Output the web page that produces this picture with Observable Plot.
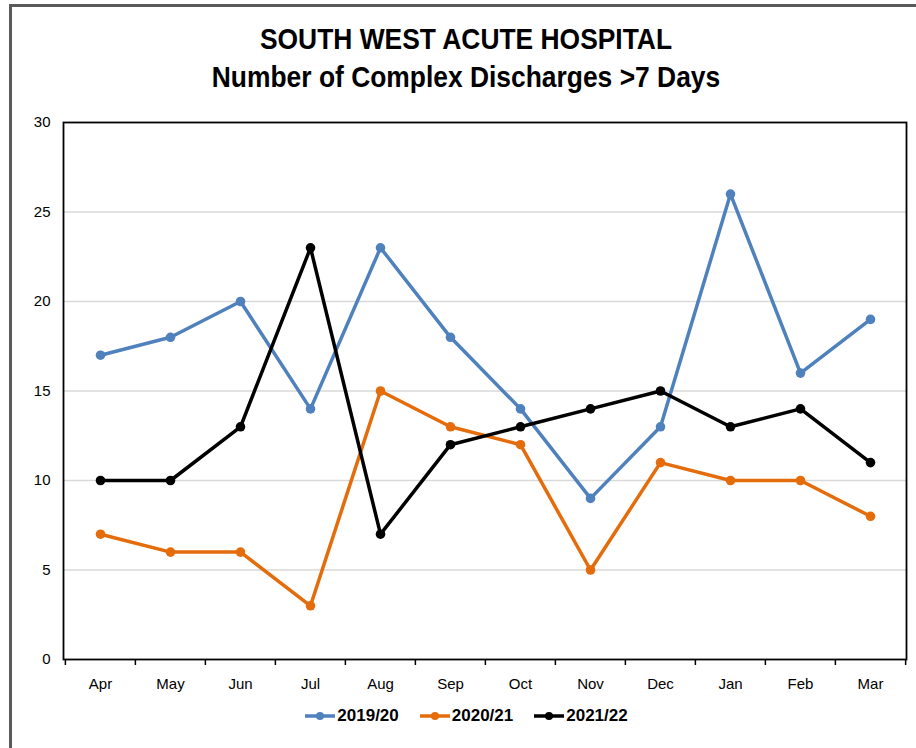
<!DOCTYPE html>
<html>
<head>
<meta charset="utf-8">
<script src="https://cdn.jsdelivr.net/npm/d3@7"></script>
<script src="https://cdn.jsdelivr.net/npm/@observablehq/plot@0.6"></script>
<style>
  body { margin: 0; background: #fff; }
  #wrap { position: relative; width: 916px; height: 748px; overflow: hidden; font-family: "Liberation Sans", Arial, sans-serif; }
  #border { position: absolute; left: 9px; top: 4px; width: 1000px; height: 1000px; border-top: 3px solid #5a5a5a; border-left: 3px solid #5a5a5a; }
  .title { position: absolute; left: 0; width: 932px; text-align: center; font-weight: bold; font-size: 30px; color: #000; transform: scaleX(0.88); transform-origin: 466px 0; }
  #chart { position: absolute; left: 0; top: 100px; }
  #legend { position: absolute; left: 0; top: 706px; width: 932px; display: flex; justify-content: center; gap: 20px; font-weight: bold; font-size: 17px; }
  #legend span.item { display: flex; align-items: center; }
  #legend svg { margin-right: 1px; }
</style>
</head>
<body>
<div id="wrap">
  <div id="border"></div>
  <div class="title" style="top:22px">SOUTH WEST ACUTE HOSPITAL</div>
  <div class="title" style="top:60px">Number of Complex Discharges &gt;7 Days</div>
  <div id="chart"></div>
  <div id="legend"></div>
</div>
<script>
const months = ["Apr","May","Jun","Jul","Aug","Sep","Oct","Nov","Dec","Jan","Feb","Mar"];
const seriesNames = ["2019/20","2020/21","2021/22"];
const s2019 = [17,18,20,14,23,18,14,9,13,26,16,19];
const s2020 = [7,6,6,3,15,13,12,5,11,10,10,8];
const s2021 = [10,10,13,23,7,12,13,14,15,13,14,11];
const colors = ["#4f81bd","#e46c0a","#000000"];
const yTicks = [0,5,10,15,20,25,30];

const data = [];
[s2019, s2020, s2021].forEach((arr, k) => arr.forEach((v, i) => data.push({month: months[i], value: v, series: seriesNames[k]})));

const width = 916, height = 610;
const mL = 63, mR = 10, mT = 22, mB = 51;
const bw = (width - mL - mR) / months.length;

const chart = Plot.plot({
  width, height,
  marginLeft: mL, marginRight: mR, marginTop: mT, marginBottom: mB,
  style: {fontFamily: '"Liberation Sans", Arial, sans-serif', fontSize: "15px", color: "#000", background: "transparent"},
  x: {type: "band", domain: months, padding: 0, label: null},
  y: {domain: [0, 30], label: null},
  color: {domain: seriesNames, range: colors},
  marks: [
    Plot.ruleY(yTicks.filter(t => t > 0 && t < 30), {y: d => d, stroke: "#d9d9d9", strokeWidth: 1.5}),
    Plot.axisY({ticks: yTicks, tickSize: 0, tickPadding: 13, label: null, fontSize: 15}),
    Plot.axisX({tickSize: 0, tickPadding: 19, label: null, fontSize: 15}),
    Plot.ruleX(months, {x: d => d, dx: -bw / 2, y1: 0, y2: 0, insetBottom: -6, stroke: "#000", strokeWidth: 1.5}),
    Plot.ruleX(months.slice(-1), {x: d => d, dx: bw / 2, y1: 0, y2: 0, insetBottom: -6, stroke: "#000", strokeWidth: 1.5}),
    Plot.frame({stroke: "#000", strokeWidth: 1.8}),
    Plot.line(data, {x: "month", y: "value", z: "series", stroke: "series", strokeWidth: 3.5, curve: "linear"}),
    Plot.dot(data, {x: "month", y: "value", fill: "series", r: 4.8})
  ]
});
document.getElementById("chart").appendChild(chart);

const legend = document.getElementById("legend");
seriesNames.forEach((name, k) => {
  const item = document.createElement("span");
  item.className = "item";
  item.innerHTML = `<svg width="32" height="12"><line x1="1" y1="6" x2="31" y2="6" stroke="${colors[k]}" stroke-width="3.5"/><circle cx="16" cy="6" r="4" fill="${colors[k]}"/></svg><span>${name}</span>`;
  legend.appendChild(item);
});
</script>
</body>
</html>
